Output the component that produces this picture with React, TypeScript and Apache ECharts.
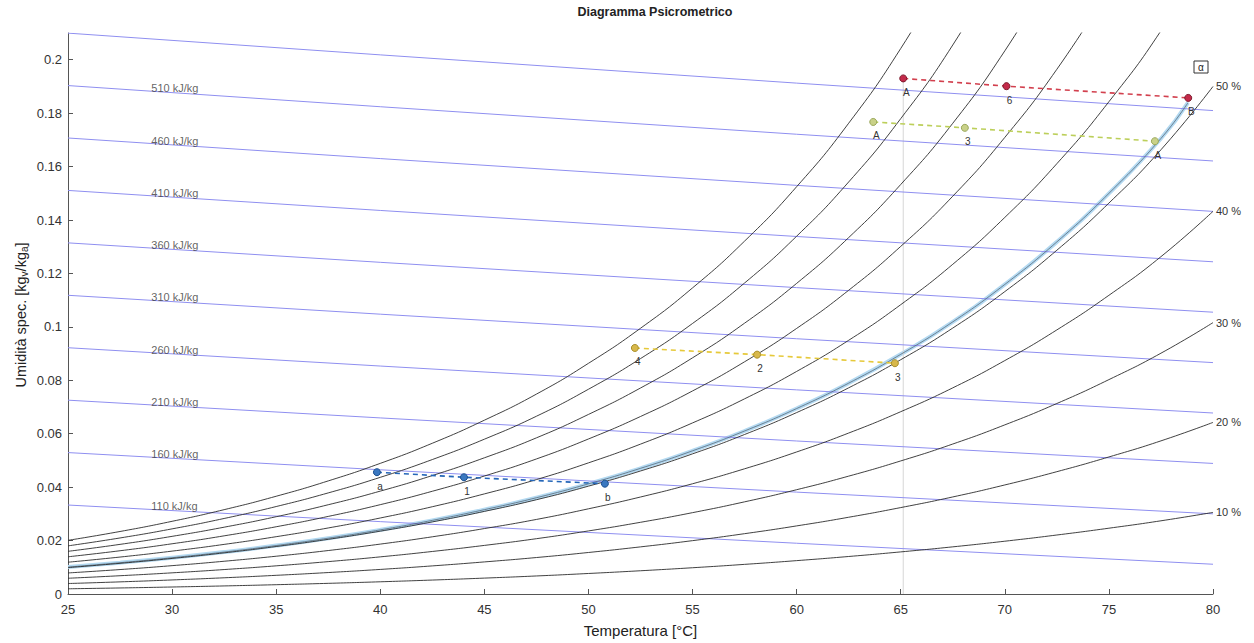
import React, { useEffect, useRef } from "react";
import * as echarts from "echarts";

// Temperature grid (°C) used for the relative-humidity curves
const TEMPS = [25, 27.5, 30, 32.5, 35, 37.5, 40, 42.5, 45, 47.5, 50, 52.5, 55, 57.5, 60, 62.5, 65, 67.5, 70, 72.5, 75, 77.5, 80];

// Specific humidity (kg_v/kg_a) along each relative-humidity curve
const RH_10 = [0.00195, 0.00226, 0.00262, 0.00302, 0.00348, 0.00399, 0.00457, 0.00522, 0.00595, 0.00675, 0.00768, 0.0087, 0.00983, 0.01109, 0.01249, 0.01404, 0.01576, 0.01765, 0.01976, 0.02208, 0.02463, 0.0274, 0.03054];
const RH_20 = [0.00392, 0.00454, 0.00526, 0.00607, 0.00699, 0.00803, 0.0092, 0.01052, 0.01201, 0.01365, 0.01554, 0.01764, 0.01997, 0.02258, 0.02549, 0.02873, 0.03235, 0.03633, 0.04082, 0.04579, 0.0513, 0.05732, 0.06423];
const RH_30 = [0.00589, 0.00684, 0.00792, 0.00915, 0.01054, 0.01212, 0.0139, 0.01592, 0.01819, 0.0207, 0.02361, 0.02684, 0.03045, 0.0345, 0.03904, 0.04412, 0.04981, 0.05614, 0.06331, 0.07131, 0.08025, 0.09014, 0.10158];
const RH_40 = [0.00788, 0.00915, 0.01061, 0.01226, 0.01414, 0.01627, 0.01868, 0.02141, 0.02449, 0.02791, 0.03189, 0.03631, 0.04127, 0.04687, 0.05317, 0.06025, 0.06824, 0.07717, 0.08738, 0.09886, 0.11181, 0.12628, 0.14324];
const RH_50 = [0.00988, 0.01148, 0.01331, 0.0154, 0.01777, 0.02047, 0.02353, 0.02699, 0.03092, 0.03529, 0.04037, 0.04605, 0.05246, 0.05971, 0.06791, 0.07718, 0.0877, 0.09955, 0.1132, 0.12869, 0.14634, 0.1663, 0.18999];
const RH_60 = [0.0119, 0.01383, 0.01605, 0.01857, 0.02145, 0.02472, 0.02845, 0.03267, 0.03747, 0.04283, 0.04909, 0.0561, 0.06404, 0.07306, 0.08331, 0.09497, 0.1083, 0.12342, 0.14097, 0.16109, 0.18428, 0.21083, 0.24282];
const RH_70 = [0.01393, 0.01619, 0.0188, 0.02177, 0.02517, 0.02904, 0.03344, 0.03846, 0.04416, 0.05055, 0.05803, 0.06644, 0.07601, 0.08693, 0.09941, 0.1137, 0.13012, 0.14891, 0.17092, 0.19642, 0.22616];
const RH_80 = [0.01597, 0.01858, 0.02158, 0.02501, 0.02893, 0.03341, 0.03851, 0.04434, 0.05098, 0.05845, 0.06722, 0.07711, 0.08841, 0.10138, 0.11627, 0.13342, 0.15329, 0.17621, 0.20332, 0.23509];
const RH_90 = [0.01802, 0.02098, 0.02438, 0.02827, 0.03274, 0.03784, 0.04367, 0.05033, 0.05795, 0.06654, 0.07665, 0.08812, 0.10127, 0.11642, 0.13393, 0.15424, 0.17794, 0.20551, 0.23848];
const RH_100 = [0.02009, 0.0234, 0.02721, 0.03157, 0.03659, 0.04233, 0.0489, 0.05643, 0.06506, 0.07482, 0.08635, 0.09947, 0.11459, 0.1321, 0.15246, 0.17623, 0.2042, 0.23705];

const RH_CURVES = [RH_10, RH_20, RH_30, RH_40, RH_50, RH_60, RH_70, RH_80, RH_90, RH_100];
const RH_END_LABELS = ["10 %", "20 %", "30 %", "40 %", "50 %", "", "", "", "", ""];

// Highlighted curve ending at point B
const HIGHLIGHT_TEMPS = [25, 27.5, 30, 32.5, 35, 37.5, 40, 42.5, 45, 47.5, 50, 52.5, 55, 57.5, 60, 62.5, 65, 67.5, 70, 72.5, 75, 77.5, 78.8];
const HIGHLIGHT_X = [0.01009, 0.01172, 0.01359, 0.01571, 0.01814, 0.02089, 0.02401, 0.02756, 0.03157, 0.03604, 0.04123, 0.04704, 0.0536, 0.06102, 0.06942, 0.07892, 0.08971, 0.10187, 0.11588, 0.13181, 0.14997, 0.17053, 0.18393];

// Constant-enthalpy lines (kJ/kg), sampled at these temperatures
const ENTHALPY_TEMPS = [25, 40, 60, 80];
const ENTHALPY_VALUES = [110, 160, 210, 260, 310, 360, 410, 460, 510, 560];
const H_110 = [0.033307, 0.027087, 0.019, 0.01114];
const H_160 = [0.052934, 0.046502, 0.038138, 0.03001];
const H_210 = [0.072561, 0.065916, 0.057276, 0.048879];
const H_260 = [0.092188, 0.085331, 0.076414, 0.067749];
const H_310 = [0.111815, 0.104745, 0.095552, 0.086618];
const H_360 = [0.131442, 0.124159, 0.11469, 0.105487];
const H_410 = [0.15107, 0.143574, 0.133828, 0.124357];
const H_460 = [0.170697, 0.162988, 0.152966, 0.143226];
const H_510 = [0.190324, 0.182403, 0.172104, 0.162095];
const H_560 = [0.209951, 0.201817, 0.191242, 0.180965];
const ENTHALPY_LINES = [H_110, H_160, H_210, H_260, H_310, H_360, H_410, H_460, H_510, H_560];

// Where each enthalpy line gets its label
const ENTHALPY_LABEL_TEMP = 29;
const ENTHALPY_LABEL_X = [0.03164, 0.0512, 0.07077, 0.09034, 0.10991, 0.12948, 0.14905, 0.16862, 0.18819];

// Process states
const BLUE_T = [39.84, 44.02, 50.79];
const BLUE_X = [0.0456, 0.0437, 0.0413];
const BLUE_LABELS = ["a", "1", "b"];

const YELLOW_T = [52.23, 58.1, 64.72];
const YELLOW_X = [0.0921, 0.0896, 0.0864];
const YELLOW_LABELS = ["4", "2", "3"];

const GREEN_T = [63.68, 68.08, 77.21];
const GREEN_X = [0.1767, 0.1745, 0.1695];
const GREEN_LABELS = ["A", "3", "A"];

const RED_T = [65.12, 70.08, 78.81];
const RED_X = [0.193, 0.1901, 0.1857];
const RED_LABELS = ["A", "6", "B"];

// Reference vertical from state A down to the temperature axis
const VERTICAL_T = [65.12, 65.12];
const VERTICAL_X = [0, 0.193];

const X_TICK_INTERVAL = 5;
const Y_TICK_INTERVAL = 0.02;

const FONT = "'Liberation Sans', Arial, Helvetica, sans-serif";

function pairs(xs: number[], ys: number[]) {
  return ys.map((y, i) => [xs[i], y]);
}

function processSeries(
  name: string,
  ts: number[],
  xs: number[],
  labels: string[],
  lineColor: string,
  fill: string,
  edge: string
) {
  return {
    name,
    type: "line",
    data: pairs(ts, xs),
    z: 6,
    lineStyle: { color: lineColor, width: 1.6, type: [5, 4] },
    symbol: "circle",
    symbolSize: 7,
    itemStyle: { color: fill, borderColor: edge, borderWidth: 1 },
    label: {
      show: true,
      position: "bottom",
      distance: 5,
      offset: [3, 0],
      fontSize: 10,
      fontFamily: FONT,
      color: "#333",
      formatter: (p: any) => labels[p.dataIndex],
    },
  };
}

export default function App() {
  const ref = useRef<HTMLDivElement>(null);

  useEffect(() => {
    if (!ref.current) return;
    const chart = echarts.init(ref.current, undefined, { renderer: "svg" });

    const series: any[] = [];

    // pale band with a thin dark core
    series.push({
      name: "highlight",
      type: "line",
      data: pairs(HIGHLIGHT_TEMPS, HIGHLIGHT_X),
      smooth: true,
      showSymbol: false,
      z: 1,
      lineStyle: { color: "#b3d9f1", width: 4 },
    });
    series.push({
      name: "highlight core",
      type: "line",
      data: pairs(HIGHLIGHT_TEMPS, HIGHLIGHT_X),
      smooth: true,
      showSymbol: false,
      z: 3,
      lineStyle: { color: "#4a5a6a", width: 0.7 },
    });

    RH_CURVES.forEach((vals, i) => {
      series.push({
        name: "rh" + (i + 1) * 10,
        type: "line",
        data: pairs(TEMPS, vals),
        smooth: true,
        showSymbol: false,
        z: 3,
        lineStyle: { color: "#2b2b2b", width: 0.9 },
        endLabel: RH_END_LABELS[i]
          ? {
              show: true,
              formatter: RH_END_LABELS[i],
              fontSize: 11,
              fontFamily: FONT,
              color: "#333",
              distance: 3,
            }
          : { show: false },
      });
    });

    ENTHALPY_LINES.forEach((vals, i) => {
      series.push({
        name: "h" + ENTHALPY_VALUES[i],
        type: "line",
        data: pairs(ENTHALPY_TEMPS, vals),
        showSymbol: false,
        z: 2,
        lineStyle: { color: "#8f8ff0", width: 1 },
      });
    });

    series.push({
      name: "enthalpy labels",
      type: "scatter",
      data: ENTHALPY_LABEL_X.map((y) => [ENTHALPY_LABEL_TEMP, y]),
      symbolSize: 0,
      z: 4,
      label: {
        show: true,
        position: "right",
        distance: 0,
        offset: [0, -3],
        fontSize: 11,
        fontFamily: FONT,
        color: "#3a3a3a",
        formatter: (p: any) => ENTHALPY_VALUES[p.dataIndex] + " kJ/kg",
      },
    });

    series.push({
      name: "vertical",
      type: "line",
      data: pairs(VERTICAL_T, VERTICAL_X),
      showSymbol: false,
      z: 1,
      lineStyle: { color: "#d6d6d6", width: 1 },
    });

    series.push(processSeries("blue", BLUE_T, BLUE_X, BLUE_LABELS, "#2466b8", "#3a78c0", "#1b4f8f"));
    series.push(processSeries("yellow", YELLOW_T, YELLOW_X, YELLOW_LABELS, "#e6c93a", "#d8b84a", "#a98f2a"));
    series.push(processSeries("green", GREEN_T, GREEN_X, GREEN_LABELS, "#bccf5a", "#c9d188", "#9aa85a"));
    series.push(processSeries("red", RED_T, RED_X, RED_LABELS, "#d2404e", "#c42a4a", "#7d1b2e"));

    chart.setOption({
      animation: false,
      backgroundColor: "#ffffff",
      textStyle: { fontFamily: FONT },
      grid: { left: 68, right: 41, top: 33, bottom: 49, containLabel: false },
      xAxis: {
        type: "value",
        min: 25,
        max: 80,
        interval: X_TICK_INTERVAL,
        name: "Temperatura [°C]",
        nameLocation: "middle",
        nameGap: 29,
        nameTextStyle: { fontSize: 15, color: "#222", fontFamily: FONT },
        axisLine: { show: true, lineStyle: { color: "#555", width: 1 } },
        axisTick: { show: true, inside: true, length: 5, lineStyle: { color: "#555" } },
        axisLabel: { fontSize: 13, color: "#333", margin: 9, fontFamily: FONT },
        splitLine: { show: false },
      },
      yAxis: {
        type: "value",
        min: 0,
        max: 0.21,
        interval: Y_TICK_INTERVAL,
        axisLine: { show: true, lineStyle: { color: "#555", width: 1 } },
        axisTick: { show: true, inside: true, length: 5, lineStyle: { color: "#555" } },
        axisLabel: { fontSize: 13, color: "#333", margin: 6, fontFamily: FONT, showMaxLabel: false },
        splitLine: { show: false },
      },
      graphic: [
        {
          type: "text",
          x: 655,
          y: 12,
          style: {
            text: "Diagramma Psicrometrico",
            font: `bold 12.5px ${FONT}`,
            fill: "#222",
            textAlign: "center",
            textVerticalAlign: "middle",
          },
        },
        {
          type: "text",
          x: 21,
          y: 315,
          rotation: Math.PI / 2,
          style: {
            text: "{n|Umidità spec. [kg}{s|v}{n|/kg}{s|a}{n|]}",
            textAlign: "center",
            textVerticalAlign: "middle",
            rich: {
              n: { fontSize: 14.5, fill: "#222", fontFamily: FONT },
              s: { fontSize: 10, fill: "#222", fontFamily: FONT, verticalAlign: "bottom", padding: [7, 0, 0, 0] },
            },
          },
        },
        {
          type: "group",
          x: 1194,
          y: 61,
          children: [
            { type: "rect", shape: { x: 0, y: 0, width: 14, height: 12 }, style: { fill: "#fff", stroke: "#333", lineWidth: 1 } },
            {
              type: "text",
              x: 7,
              y: 6,
              style: { text: "α", font: `10px ${FONT}`, fill: "#222", textAlign: "center", textVerticalAlign: "middle" },
            },
          ],
        },
      ],
      series,
    });

    return () => chart.dispose();
  }, []);

  return <div ref={ref} style={{ position: "fixed", left: 0, top: 0, width: 1254, height: 643 }} />;
}
